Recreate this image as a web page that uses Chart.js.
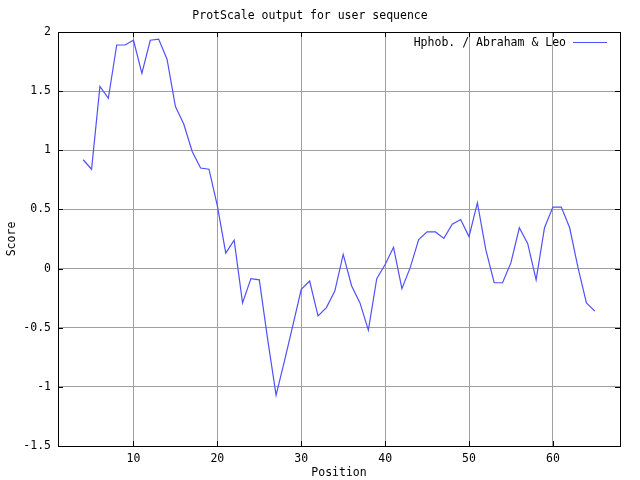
<!DOCTYPE html>
<html>
<head>
<meta charset="utf-8">
<script src="https://cdn.jsdelivr.net/npm/chart.js@4/dist/chart.umd.min.js"></script>
<style>
  html, body { margin: 0; padding: 0; background: #fff; }
  #wrap { width: 640px; height: 480px; }
</style>
</head>
<body>
<div id="wrap"><canvas id="protChart" width="640" height="480"></canvas></div>
<script>
// Datos
const posiciones = [4, 5, 6, 7, 8, 9, 10, 11, 12, 13, 14, 15, 16, 17, 18, 19, 20, 21, 22, 23, 24, 25,
    26, 27, 28, 29, 30, 31, 32, 33, 34, 35, 36, 37, 38, 39, 40, 41, 42, 43, 44, 45, 46, 47, 48, 49,
    50, 51, 52, 53, 54, 55, 56, 57, 58, 59, 60, 61, 62, 63, 64, 65];
const puntuaciones = [0.92, 0.84, 1.54, 1.44, 1.89, 1.89, 1.93, 1.65, 1.93, 1.94, 1.77, 1.37, 1.22, 0.99, 0.85, 0.84,
    0.53, 0.13, 0.24, -0.29, -0.085, -0.095, -0.60, -1.07, -0.78, -0.48, -0.175, -0.105, -0.40, -0.33, -0.19, 0.12,
    -0.145, -0.29, -0.52, -0.085, 0.035, 0.18, -0.17, 0.01, 0.245, 0.31, 0.31, 0.255, 0.375, 0.415,
    0.27, 0.555, 0.16, -0.12, -0.12, 0.05, 0.345, 0.21, -0.095, 0.345, 0.52, 0.52, 0.345, 0.005, -0.29, -0.36];
const xTicks = [10, 20, 30, 40, 50, 60];
const yTicks = [-1.5, -1, -0.5, 0, 0.5, 1, 1.5, 2];
const etiquetaSerie = 'Hphob. / Abraham & Leo';

const fuente = '"DejaVu Sans Mono", monospace';
const colorLinea = '#5050ff';

// Borde negro con marcas hacia dentro (estilo gnuplot) y leyenda a la derecha
const bordeGnuplot = {
    id: 'bordeGnuplot',
    afterDatasetsDraw(chart) {
        const { ctx, chartArea: a, scales } = chart;
        ctx.save();
        ctx.strokeStyle = '#000';
        ctx.lineWidth = 1;
        ctx.beginPath();
        xTicks.forEach(v => {
            const x = Math.round(scales.x.getPixelForValue(v)) + 0.5;
            ctx.moveTo(x, a.bottom); ctx.lineTo(x, a.bottom - 5);
            ctx.moveTo(x, a.top); ctx.lineTo(x, a.top + 5);
        });
        yTicks.forEach(v => {
            const y = Math.round(scales.y.getPixelForValue(v)) + 0.5;
            ctx.moveTo(a.left, y); ctx.lineTo(a.left + 5, y);
            ctx.moveTo(a.right, y); ctx.lineTo(a.right - 5, y);
        });
        ctx.stroke();
        ctx.strokeRect(Math.round(a.left) + 0.5, Math.round(a.top) + 0.5,
            Math.round(a.right - a.left), Math.round(a.bottom - a.top));

        // leyenda
        ctx.fillStyle = '#000';
        ctx.font = '11.5px ' + fuente;
        ctx.textAlign = 'right';
        ctx.textBaseline = 'middle';
        ctx.fillText(etiquetaSerie, 566, 43);
        ctx.strokeStyle = colorLinea;
        ctx.beginPath();
        ctx.moveTo(573, 42.5);
        ctx.lineTo(607, 42.5);
        ctx.stroke();
        ctx.restore();
    }
};

const ctx = document.getElementById('protChart').getContext('2d');
new Chart(ctx, {
    type: 'line',
    data: {
        datasets: [{
            label: etiquetaSerie,
            data: posiciones.map((p, i) => ({ x: p, y: puntuaciones[i] })),
            borderColor: colorLinea,
            borderWidth: 1.2,
            pointRadius: 0,
            tension: 0,
            fill: false
        }]
    },
    options: {
        responsive: false,
        animation: false,
        layout: { padding: { left: 0, right: 20, top: 0, bottom: 0 } },
        plugins: {
            legend: { display: false },
            tooltip: { enabled: false },
            title: {
                display: true,
                text: 'ProtScale output for user sequence',
                color: '#000',
                font: { family: fuente, size: 11.5, weight: 'normal' },
                padding: { top: 9, bottom: 9.2 }
            }
        },
        scales: {
            x: {
                type: 'linear',
                min: 1,
                max: 68,
                afterFit(scale) { scale.height = 34; },
                afterBuildTicks(scale) { scale.ticks = xTicks.map(v => ({ value: v })); },
                grid: { color: '#a0a0a0', drawTicks: false },
                border: { display: false },
                ticks: {
                    color: '#000',
                    padding: 6,
                    maxRotation: 0,
                    font: { family: fuente, size: 11.5 }
                },
                title: {
                    display: true,
                    text: 'Position',
                    color: '#000',
                    font: { family: fuente, size: 11.5 },
                    padding: { top: 0, bottom: 0 }
                }
            },
            y: {
                type: 'linear',
                min: -1.5,
                max: 2,
                afterFit(scale) { scale.width = 58; },
                afterBuildTicks(scale) { scale.ticks = yTicks.map(v => ({ value: v })); },
                grid: { color: '#a0a0a0', drawTicks: false },
                border: { display: false },
                ticks: {
                    color: '#000',
                    padding: 7,
                    font: { family: fuente, size: 11.5 },
                    callback: v => String(v)
                },
                title: {
                    display: true,
                    text: 'Score',
                    color: '#000',
                    font: { family: fuente, size: 11.5 },
                    padding: { top: 5, bottom: 0 }
                }
            }
        }
    },
    plugins: [bordeGnuplot]
});
</script>
</body>
</html>
